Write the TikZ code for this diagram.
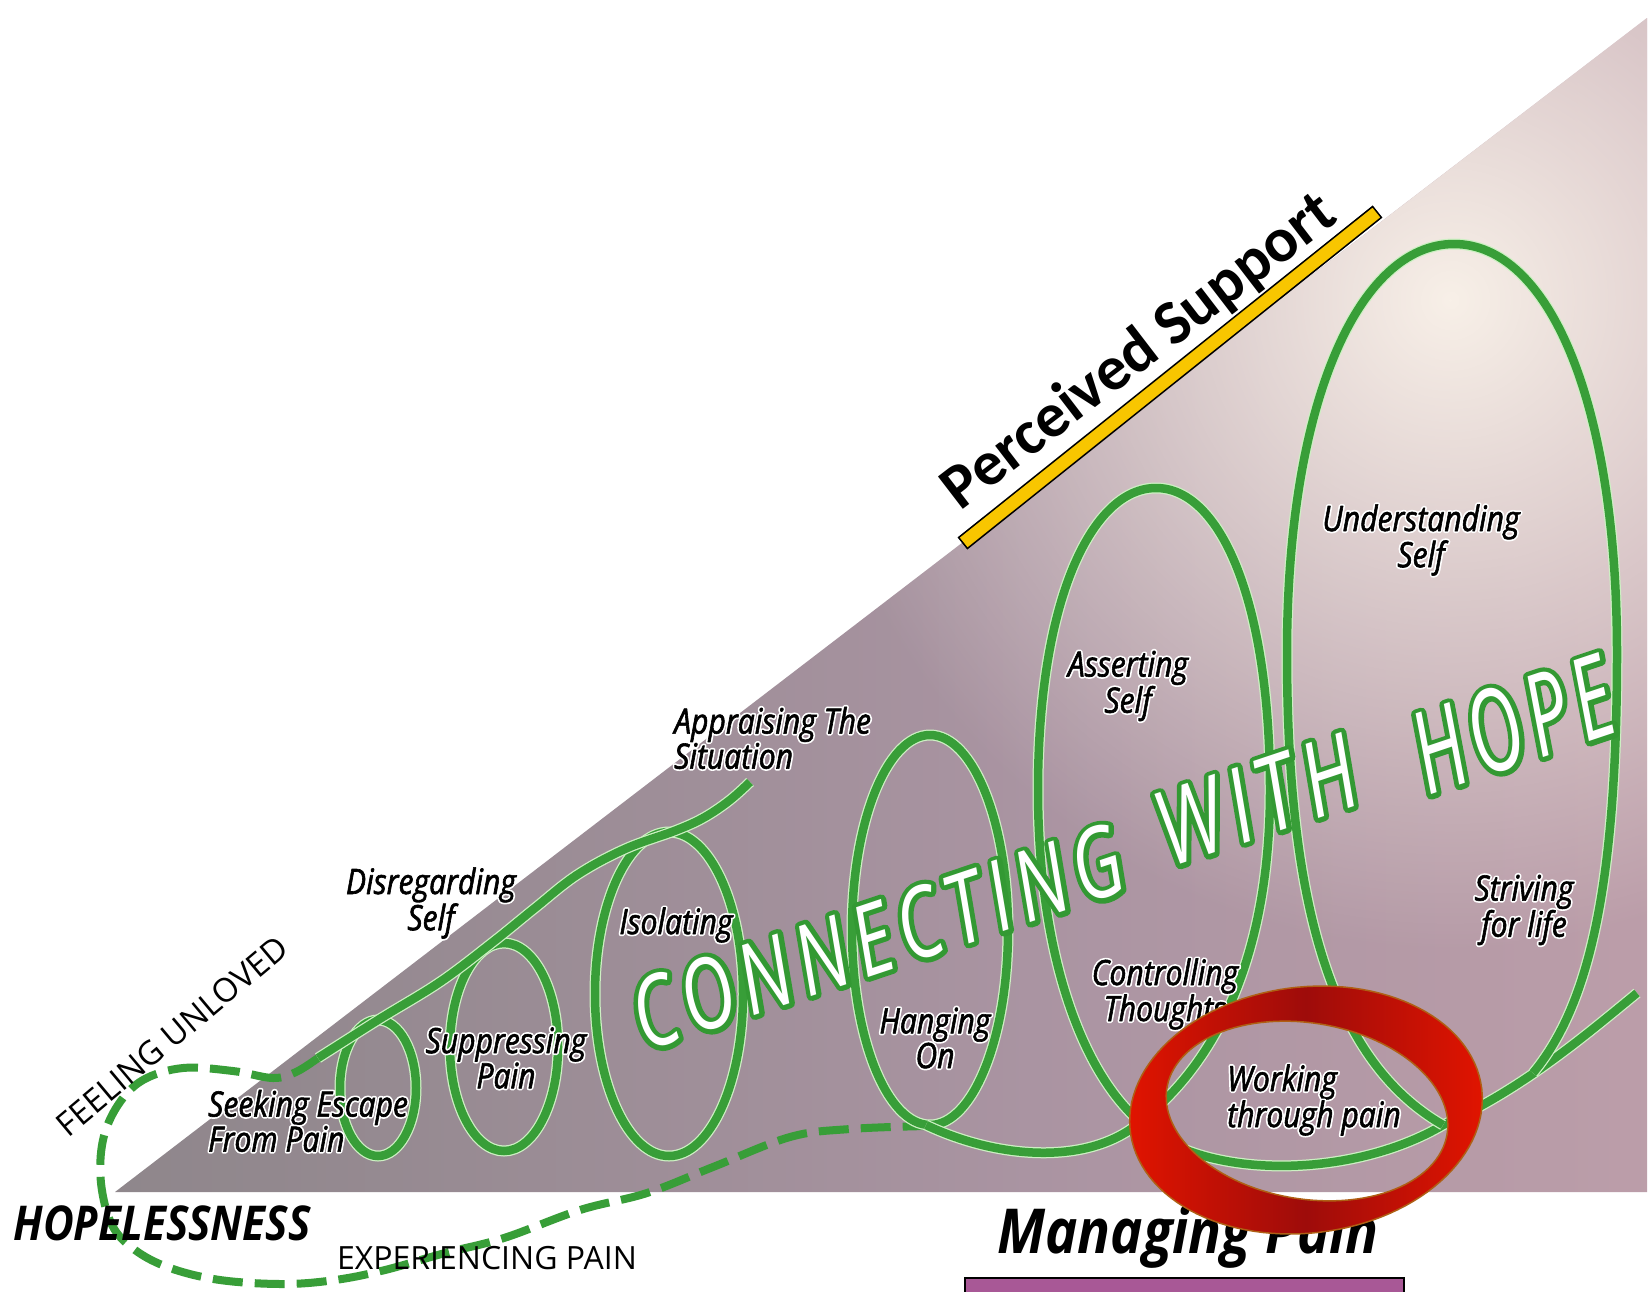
\documentclass[tikz,border=0pt]{standalone}
\usepackage{fontspec}
\usetikzlibrary{fadings}
\setmainfont{Open Sans}
\newfontfamily\lblfont[FakeStretch=0.86]{Open Sans}
\newfontfamily\hopefont[FakeStretch=0.74, LetterSpace=9]{Open Sans}
\newfontfamily\hopefontB[FakeStretch=0.64, LetterSpace=7]{Open Sans}
\newfontfamily\boldfont[FakeStretch=0.88]{Open Sans}
\newfontfamily\psfont{Carlito}
\definecolor{grn}{RGB}{56,158,56}
\definecolor{grnedge}{RGB}{205,240,195}
\definecolor{triL}{RGB}{128,128,128}
\definecolor{triA}{RGB}{146,136,142}
\definecolor{triM}{RGB}{170,148,162}
\definecolor{triB}{RGB}{192,160,171}
\definecolor{triR}{RGB}{207,172,180}
\definecolor{glowc}{RGB}{248,240,232}
\definecolor{ringA}{RGB}{224,20,0}
\definecolor{ringB}{RGB}{158,12,10}
\definecolor{ringEdge}{RGB}{175,95,20}
\definecolor{barY}{RGB}{248,198,0}
\definecolor{purp}{RGB}{168,88,150}
\pgfdeclarehorizontalshading{trishade}{100bp}{color(0bp)=(triL); color(30bp)=(triA); color(55bp)=(triM); color(80bp)=(triB); color(100bp)=(triR)}
\tikzfading[name=glowfade, inner color=transparent!0, outer color=transparent!100]
% stroked halo copy under a normal copy
\newcommand{\strk}[3]{\leavevmode\rlap{\special{pdf:literal direct 2 Tr #1 RG #2 w 1 j}#3\special{pdf:literal direct 0 Tr}}#3}
\newcommand{\hl}[1]{\leavevmode\rlap{\special{pdf:literal direct 2 Tr 1 1 1 RG 4 w 1 j}#1\special{pdf:literal direct 0 Tr}}\special{pdf:literal direct 2 Tr 0 0 0 RG 0.6 w 1 j}#1\special{pdf:literal direct 0 Tr}}
\newcommand{\gout}[1]{\strk{0.2 0.6 0.2}{9.5}{#1}}
\begin{document}
\begin{tikzpicture}[x=1pt,y=-1pt,
  gl/.style={draw=grn, line width=8.5pt, preaction={draw=grnedge, line width=11pt}},
  gdash/.style={draw=grn, line width=8pt, dash pattern=on 30pt off 12pt},
  lbl/.style={font=\lblfont\itshape\fontsize{35}{31}\selectfont, inner sep=0pt, text=black},
  hope/.style={inner sep=0pt, text=white, rotate=18.5, anchor=base west},
]
\useasboundingbox (0,0) rectangle (1652,1291);
\fill[white] (0,0) rectangle (1652,1291);

% triangle background
\coordinate (A) at (115,1192);
\coordinate (B) at (1647,1192);
\coordinate (C) at (1647,18);
\shade[shading=trishade] (A) -- (B) -- (C) -- cycle;
\begin{scope}
  \clip (A) -- (B) -- (C) -- cycle;
  \fill[glowc, path fading=glowfade] (1450,300) circle (650);
\end{scope}

% perceived support bar
\fill[barY, draw=black, line width=1.5pt] (958.6,537.5) -- (967.4,548.5) -- (1381.4,217.5) -- (1372.6,206.5) -- cycle;
\node[font=\psfont\bfseries\fontsize{63}{63}\selectfont, rotate=37.5, anchor=base, inner sep=0pt] (ps) at (1150,366) {Perceived Support};

% dashed path
\draw[gdash] plot[smooth, tension=0.6] coordinates {(318,1058) (296,1072) (273,1078) (233,1071) (183,1068) (143,1080) (118,1105) (103,1140) (101,1183) (112,1225) (135,1250) (170,1268) (220,1280) (283,1284) (335,1280) (385,1270) (445,1253) (504,1238) (580,1210) (647,1193) (713,1167) (790,1137) (850,1129) (926,1126)};

% left coil
\draw[gl] (378,1088) ellipse [x radius=38, y radius=68];
\draw[gl] (504,1047) ellipse [x radius=54, y radius=104];
\draw[gl] (669,994) ellipse [x radius=74, y radius=162];
\draw[gl] plot[smooth, tension=0.6] coordinates {(318,1058) (378,1020) (440,982) (493,942) (535,908) (577,875) (625,849) (677,830) (705,817) (730,800) (750,782)};

% right coil
\draw[gl] (930,930) ellipse [x radius=78, y radius=195];
\draw[gl] (926,1125) .. controls (1000,1160) and (1090,1165) .. (1140,1122)
  .. controls (1220,1060) and (1270,950) .. (1270,790)
  .. controls (1270,600) and (1220,488) .. (1156,488)
  .. controls (1092,488) and (1038,600) .. (1038,790)
  .. controls (1038,950) and (1080,1070) .. (1140,1122)
  .. controls (1200,1180) and (1350,1180) .. (1443,1125)
  .. controls (1520,1090) and (1580,1040) .. (1637,993);
\draw[gl] (1443,1125) .. controls (1330,1060) and (1287,900) .. (1287,653)
  .. controls (1287,400) and (1360,244) .. (1454,244)
  .. controls (1548,244) and (1617,400) .. (1617,653)
  .. controls (1617,900) and (1585,1010) .. (1533,1073);

% labels
\node[lbl, align=left, anchor=west] (seek) at (208,1121) {\hl{Seeking Escape}\\\hl{From Pain}};
\node[lbl, align=center] (supp) at (506,1058) {\hl{Suppressing}\\\hl{Pain}};
\node[lbl, align=center] (disr) at (431,903) {\hl{Disregarding}\\\hl{Self}};
\node[lbl] (isol) at (676,925) {\hl{Isolating}};
\node[lbl, align=left, anchor=west] (appr) at (674,738) {\hl{Appraising The}\\\hl{Situation}};
\node[lbl, align=center] (hang) at (935,1038) {\hl{Hanging}\\\hl{On}};
\node[lbl, align=center] (ctrl) at (1165,994) {\hl{Controlling}\\\hl{Thoughts}};
\node[lbl, align=center] (asrt) at (1128,686) {\hl{Asserting}\\\hl{Self}};
\node[lbl, align=center] (undr) at (1421,540) {\hl{Understanding}\\\hl{Self}};
\node[lbl, align=center] (striv) at (1524,910) {\hl{Striving}\\\hl{for life}};
\node[lbl, align=left, anchor=west] (work) at (1227,1100) {\hl{Working}\\\hl{through pain}};

% connecting with hope
\node[hope, font=\hopefont\itshape\fontsize{98}{98}\selectfont] (conn) at (645,1052) {\gout{CONNECTING}};
\node[hope, font=\hopefont\itshape\fontsize{104}{104}\selectfont] (with) at (1170,868) {\gout{WITH}};
\node[hope, font=\hopefontB\itshape\fontsize{114}{114}\selectfont] (hopew) at (1428,796) {\gout{HOPE}};

% outer labels
\node[font=\fontsize{33}{33}\selectfont, rotate=40, inner sep=0pt] (feel) at (172,1036) {FEELING UNLOVED};
\node[font=\boldfont\bfseries\itshape\fontsize{48}{48}\selectfont, inner sep=0pt] (hopeless) at (162,1223) {HOPELESSNESS};
\node[font=\fontsize{32}{32}\selectfont, inner sep=0pt] (exp) at (487,1258) {EXPERIENCING PAIN};
\node[font=\boldfont\bfseries\itshape\fontsize{62}{62}\selectfont, inner sep=0pt] (mp) at (1188,1237) {Managing Pain};
\draw[fill=purp, line width=2pt] (965,1278) rectangle (1404,1300);

% red ring
\shadedraw[even odd rule, left color=ringA, right color=ringA, middle color=ringB, draw=ringEdge, line width=1.5pt]
  plot[domain=0:360, samples=120, variable=\t] ({1306 + 177*cos(\t)*cos(7) - 123*sin(\t)*sin(7)}, {1110 - 177*cos(\t)*sin(7) - 123*sin(\t)*cos(7)}) -- cycle
  plot[domain=0:360, samples=120, variable=\t] ({1307 + 142*cos(\t)*cos(-9.4) - 88*sin(\t)*sin(-9.4)}, {1111 - 142*cos(\t)*sin(-9.4) - 88*sin(\t)*cos(-9.4)}) -- cycle;
\end{tikzpicture}
\end{document}
